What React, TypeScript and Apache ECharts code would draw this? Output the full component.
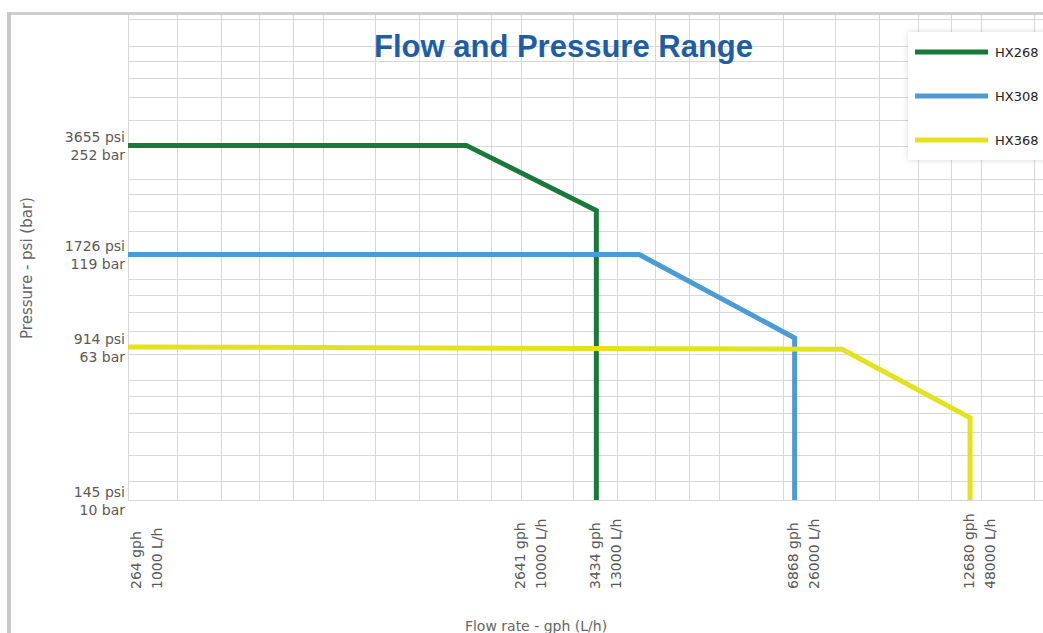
import React, { useEffect, useRef } from "react";
import * as echarts from "echarts";

// ---- data ----
const flowTicksLh = [1000, 10000, 13000, 26000, 48000];
const flowTicksGph = [264, 2641, 3434, 6868, 12680];
const pressureTicksBar = [10, 63, 119, 252];
const pressureTicksPsi = [145, 914, 1726, 3655];

const seriesNames = ["HX268", "HX308", "HX368"];
const hx268Flow = [1000, 8250, 13000, 13000];
const hx268Pressure = [252, 252, 161, 10];
const hx308Flow = [1000, 15100, 26000, 26000];
const hx308Pressure = [119, 119, 67, 10];
const hx368Flow = [1000, 30700, 48000, 48000];
const hx368Pressure = [63, 62, 38.7, 10];

const seriesColors = ["#17793a", "#4b9bd6", "#e2e31e"];

// background log-paper grid (decorative)
const gridMantissas = [1, 1.2, 1.4, 1.6, 1.8, 2, 2.5, 3, 3.5, 4, 4.5, 5, 6, 7, 8, 9];
const flowGridDecades = [1000, 10000];
const pressureGridDecades = [10, 100];

const FONT = "DejaVu Sans";

export default function App() {
  const ref = useRef<HTMLDivElement>(null);

  useEffect(() => {
    const chart = echarts.init(ref.current!, null, { renderer: "svg" });

    const mk = (name: string, flow: number[], pres: number[], color: string) => ({
      name,
      type: "line",
      data: flow.map((f, i) => [f, pres[i]]),
      symbol: "none",
      lineStyle: { color, width: 5, join: "miter", cap: "butt" },
      itemStyle: { color },
      z: 5,
    });

    const gridLeft = 128;
    const plotBottom = 500;

    const xGrid: number[] = [];
    flowGridDecades.forEach((d) => gridMantissas.forEach((m) => xGrid.push(d * m)));
    xGrid.push(100000);
    const yGrid: number[] = [];
    pressureGridDecades.forEach((d) => gridMantissas.forEach((m) => yGrid.push(d * m)));

    const axisCommon = {
      axisLine: { show: false },
      axisTick: { show: false },
      axisLabel: { show: false },
      splitLine: { show: false },
      breakArea: { show: false },
    };

    chart.setOption({
      animation: false,
      backgroundColor: "#ffffff",
      title: {
        text: "Flow and Pressure Range",
        left: 374,
        top: 31,
        padding: 0,
        textStyle: {
          fontFamily: "Liberation Sans",
          fontWeight: "bold",
          fontSize: 31,
          color: "#1d5ea6",
        },
      },
      legend: {
        orient: "vertical",
        left: 908,
        top: 32,
        z: 20,
        padding: [12, 40, 12, 7],
        itemWidth: 73,
        itemHeight: 5,
        itemGap: 28,
        icon: "rect",
        backgroundColor: "#ffffff",
        shadowBlur: 6,
        shadowColor: "rgba(0,0,0,0.15)",
        textStyle: {
          fontFamily: FONT,
          fontSize: 13,
          color: "#222",
          lineHeight: 16,
          padding: [0, 0, 0, 2],
        },
        data: seriesNames,
      },
      grid: {
        left: gridLeft,
        right: -137,
        top: -55,
        bottom: 633 - plotBottom,
        outerBoundsMode: "none",
        containLabel: false,
      },
      xAxis: {
        type: "log",
        min: 1000,
        max: 100000,
        breaks: [{ start: 1000, end: 2529, gap: 0 }],
        ...axisCommon,
      },
      yAxis: {
        type: "log",
        min: 10,
        max: 1000,
        breaks: [{ start: 10, end: 21.98, gap: 0 }],
        ...axisCommon,
      },
      series: [
        {
          name: "grid",
          type: "line",
          data: [],
          z: 1,
          silent: true,
          markLine: {
            silent: true,
            z: 1,
            symbol: "none",
            animation: false,
            label: { show: false },
            lineStyle: { color: "#d8d8d8", width: 1, type: "solid" },
            emphasis: { disabled: true },
            data: [
              ...xGrid.map((v) => ({ xAxis: v })),
              ...yGrid.map((v) => ({ yAxis: v })),
            ],
          },
        },
        mk(seriesNames[0], hx268Flow, hx268Pressure, seriesColors[0]),
        mk(seriesNames[1], hx308Flow, hx308Pressure, seriesColors[1]),
        mk(seriesNames[2], hx368Flow, hx368Pressure, seriesColors[2]),
      ],
    });

    const graphics: any[] = [
      { type: "rect", z: 50, shape: { x: 0, y: 0, width: 1043, height: 13 }, style: { fill: "#ffffff" } },
      { type: "rect", z: 51, shape: { x: 7, y: 12, width: 1036, height: 3 }, style: { fill: "#cfcfcf" } },
      { type: "rect", z: 51, shape: { x: 7, y: 12, width: 4, height: 621 }, style: { fill: "#c8c8c8" } },
    ];

    pressureTicksBar.forEach((bar, i) => {
      const py = chart.convertToPixel({ yAxisIndex: 0 }, bar) as number;
      graphics.push({
        type: "text",
        z: 60,
        x: 125,
        y: py + 1,
        style: {
          text: `${pressureTicksPsi[i]} psi\n${bar} bar`,
          align: "right",
          verticalAlign: "middle",
          font: `14px '${FONT}'`,
          fill: "#5a5a5a",
          lineHeight: 18,
        },
      });
    });

    flowTicksLh.forEach((lh, i) => {
      const px = chart.convertToPixel({ xAxisIndex: 0 }, lh) as number;
      graphics.push({
        type: "text",
        z: 60,
        x: Math.max(px + 9, gridLeft + 18),
        y: 589,
        rotation: Math.PI / 2,
        style: {
          text: `${flowTicksGph[i]} gph\n${lh} L/h`,
          align: "left",
          verticalAlign: "middle",
          font: `14px '${FONT}'`,
          fill: "#5a5a5a",
          lineHeight: 21,
        },
      });
    });

    graphics.push({
      type: "text",
      z: 60,
      x: 27,
      y: 268,
      rotation: Math.PI / 2,
      style: {
        text: "Pressure - psi (bar)",
        align: "center",
        verticalAlign: "middle",
        font: `15px '${FONT}'`,
        fill: "#666",
      },
    });
    graphics.push({
      type: "text",
      z: 60,
      x: 536,
      y: 626,
      style: {
        text: "Flow rate - gph (L/h)",
        align: "center",
        verticalAlign: "middle",
        font: `14px '${FONT}'`,
        fill: "#666",
      },
    });

    chart.setOption({ graphic: graphics });

    return () => chart.dispose();
  }, []);

  return (
    <div
      ref={ref}
      style={{ position: "fixed", left: 0, top: 0, width: 1043, height: 633 }}
    />
  );
}
